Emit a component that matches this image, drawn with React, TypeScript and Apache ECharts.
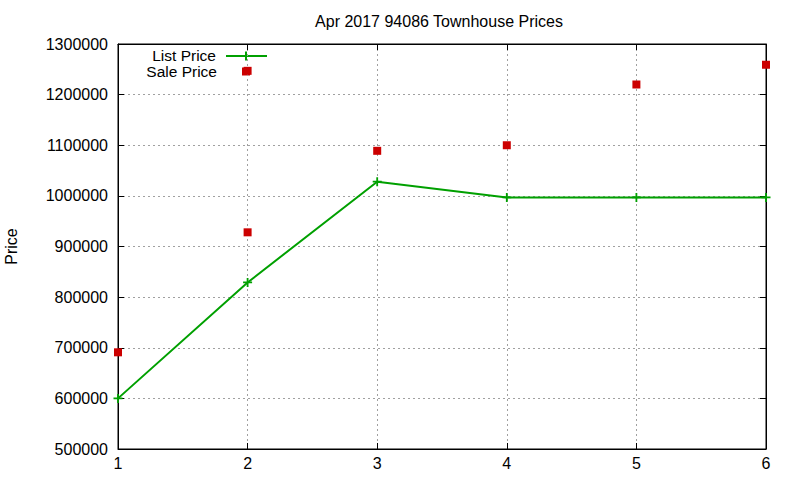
import React, { useEffect, useRef } from "react";
import * as echarts from "echarts";

const titleText = "Apr 2017 94086 Townhouse Prices";
const yAxisName = "Price";
const listName = "List Price";
const saleName = "Sale Price";

const listX = [1, 2, 3, 4, 5, 6];
const listY = [600000, 829000, 1028000, 997000, 997000, 997000];

const saleX = [1, 2, 2, 3, 4, 5, 6];
const saleY = [691000, 1247000, 928000, 1089000, 1100000, 1220000, 1259000];

const xMin = 1;
const xMax = 6;
const yMin = 500000;
const yMax = 1300000;
const yStep = 100000;

const GREEN = "#00a000";
const RED = "#cc0000";
const FONT = "'Liberation Sans', Arial, sans-serif";

const crossPath = "path://M4,0H6V10H4ZM0,4H10V6H0Z";

export default function App() {
  const ref = useRef<HTMLDivElement>(null);
  useEffect(() => {
    if (!ref.current) return;
    const chart = echarts.init(ref.current, null, { renderer: "svg" });
    const axisCommon = {
      type: "value",
      axisLine: { show: true, lineStyle: { color: "#000", width: 1 } },
      axisTick: { show: true, inside: true, length: 6, lineStyle: { color: "#000" } },
    };
    chart.setOption({
      animation: false,
      backgroundColor: "#fff",
      textStyle: { fontFamily: FONT },
      title: {
        text: titleText,
        left: 434,
        textAlign: "center",
        top: 8,
        textStyle: { fontSize: 16, fontWeight: "normal", color: "#000", fontFamily: FONT },
      },
      grid: {
        left: 118,
        right: 34,
        top: 44,
        bottom: 31,
        containLabel: false,
        outerBoundsMode: "none",
        show: true,
        borderColor: "#000",
        borderWidth: 1,
        backgroundColor: "transparent",
      },
      xAxis: [
        {
          ...axisCommon,
          min: xMin,
          max: xMax,
          interval: 1,
          position: "bottom",
          axisLabel: { show: true, color: "#000", fontSize: 16, fontFamily: FONT, margin: 6, showMinLabel: true, showMaxLabel: true, formatter: (v: number) => String(v) },
          splitLine: { show: true, lineStyle: { color: "#a0a0a0", type: [2, 3], width: 1 } },
        },
        {
          ...axisCommon,
          min: xMin,
          max: xMax,
          interval: 1,
          position: "top",
          axisLabel: { show: false },
          splitLine: { show: false },
        },
      ],
      yAxis: [
        {
          ...axisCommon,
          min: yMin,
          max: yMax,
          interval: yStep,
          position: "left",
          name: yAxisName,
          nameLocation: "middle",
          nameRotate: 90,
          nameGap: 99,
          nameTextStyle: { color: "#000", fontSize: 16, fontFamily: FONT },
          axisLabel: { show: true, color: "#000", fontSize: 16, fontFamily: FONT, margin: 10, showMinLabel: true, showMaxLabel: true, formatter: (v: number) => String(v) },
          splitLine: { show: true, lineStyle: { color: "#a0a0a0", type: [2, 3], width: 1 } },
        },
        {
          ...axisCommon,
          min: yMin,
          max: yMax,
          interval: yStep,
          position: "right",
          axisLabel: { show: false },
          splitLine: { show: false },
        },
      ],
      series: [
        {
          name: listName,
          type: "line",
          data: listX.map((x, i) => [x, listY[i]]),
          symbol: crossPath,
          symbolSize: 9,
          showSymbol: true,
          clip: false,
          lineStyle: { color: GREEN, width: 2 },
          itemStyle: { color: GREEN, opacity: 1 },
          z: 3,
        },
        {
          name: saleName,
          type: "scatter",
          data: saleX.map((x, i) => [x, saleY[i]]),
          symbol: "rect",
          symbolSize: 8,
          clip: false,
          itemStyle: { color: RED, opacity: 1 },
          z: 4,
        },
      ],
      graphic: [
        {
          type: "text",
          x: 216,
          y: 55.5,
          style: { text: listName, font: `15.5px ${FONT}`, fill: "#000", textAlign: "right", textVerticalAlign: "middle" },
        },
        {
          type: "text",
          x: 217,
          y: 71.5,
          style: { text: saleName, font: `15.5px ${FONT}`, fill: "#000", textAlign: "right", textVerticalAlign: "middle" },
        },
        {
          type: "line",
          shape: { x1: 226, y1: 56, x2: 267, y2: 56 },
          style: { stroke: GREEN, lineWidth: 2 },
        },
        {
          type: "line",
          shape: { x1: 246, y1: 51.5, x2: 246, y2: 60.5 },
          style: { stroke: GREEN, lineWidth: 2 },
        },
        {
          type: "rect",
          shape: { x: 242, y: 67.5, width: 8, height: 8 },
          style: { fill: RED },
        },
      ],
    });
    return () => chart.dispose();
  }, []);
  return (
    <div
      ref={ref}
      style={{ position: "fixed", left: 0, top: 0, width: 800, height: 480, background: "#fff" }}
    />
  );
}
